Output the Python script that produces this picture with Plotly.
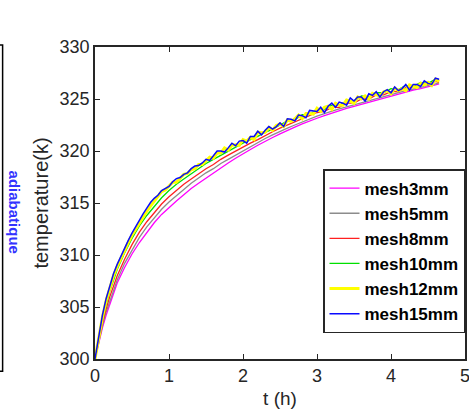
import plotly.graph_objects as go

# ---------------- data ----------------
t_coarse = [0.0, 0.05, 0.1, 0.15, 0.2, 0.3, 0.4, 0.5, 0.6, 0.7, 0.8, 0.9, 1.0,
            1.1, 1.2, 1.3, 1.4, 1.5, 1.6, 1.7, 1.8, 1.9, 2.0, 2.1, 2.2, 2.3,
            2.4, 2.5, 2.6, 2.7, 2.8, 2.9, 3.0, 3.1, 3.2, 3.3, 3.4, 3.5, 3.6,
            3.7, 3.8, 3.9, 4.0, 4.1, 4.2, 4.3, 4.4, 4.5, 4.6, 4.65]

mesh3mm = [300.0, 301.6, 303.0, 304.2, 305.3, 307.3, 308.8, 310.1, 311.2, 312.2,
           313.1, 313.9, 314.6, 315.2, 315.8, 316.4, 316.9, 317.4, 317.9, 318.4,
           318.85, 319.3, 319.75, 320.15, 320.55, 320.95, 321.3, 321.65, 322.0,
           322.3, 322.6, 322.9, 323.15, 323.4, 323.65, 323.9, 324.1, 324.3, 324.5,
           324.7, 324.9, 325.1, 325.3, 325.5, 325.7, 325.85, 326.0, 326.15,
           326.35, 326.45]

mesh5mm = [300.0, 301.7, 303.2, 304.5, 305.6, 307.6, 309.2, 310.5, 311.7, 312.7,
           313.6, 314.4, 315.1, 315.7, 316.3, 316.9, 317.4, 317.9, 318.3, 318.8,
           319.2, 319.6, 320.05, 320.45, 320.85, 321.2, 321.55, 321.9, 322.2,
           322.5, 322.8, 323.1, 323.35, 323.6, 323.85, 324.05, 324.25, 324.45,
           324.65, 324.85, 325.05, 325.25, 325.4, 325.6, 325.8, 325.95, 326.1,
           326.25, 326.45, 326.55]

mesh8mm = [300.0, 301.8, 303.4, 304.8, 306.0, 308.0, 309.6, 311.0, 312.2, 313.2,
           314.1, 314.9, 315.6, 316.2, 316.8, 317.3, 317.8, 318.3, 318.7, 319.2,
           319.6, 320.0, 320.4, 320.75, 321.1, 321.5, 321.85, 322.2, 322.5,
           322.8, 323.1, 323.4, 323.7, 323.8, 324.2, 324.2, 324.6, 324.6, 325.0,
           325.0, 325.4, 325.4, 325.7, 325.7, 326.1, 326.1, 326.4, 326.4, 326.7,
           326.6]

mesh10mm = [300.0, 301.9, 303.7, 305.2, 306.5, 308.6, 310.2, 311.6, 312.8, 313.8,
            314.7, 315.5, 316.2, 316.8, 317.3, 317.8, 318.3, 318.8, 319.2, 319.6,
            320.0, 320.4, 320.75, 321.1, 321.4, 321.8, 322.1, 322.5, 322.9,
            323.0, 323.5, 323.5, 324.0, 324.0, 324.4, 324.4, 324.8, 324.8, 325.3,
            325.2, 325.6, 325.6, 326.0, 325.9, 326.3, 326.2, 326.6, 326.5, 326.9,
            326.8]

t_fine = [0.0, 0.05, 0.1, 0.15, 0.2, 0.25, 0.3, 0.35, 0.4, 0.45, 0.5, 0.55, 0.6,
          0.65, 0.7, 0.75, 0.8, 0.85, 0.9, 0.95, 1.0, 1.05, 1.1, 1.15, 1.2, 1.25,
          1.3, 1.35, 1.4, 1.45, 1.5, 1.55, 1.6, 1.65, 1.7, 1.75, 1.8, 1.85, 1.9,
          1.95, 2.0, 2.05, 2.1, 2.15, 2.2, 2.25, 2.3, 2.35, 2.4, 2.45, 2.5, 2.55,
          2.6, 2.65, 2.7, 2.75, 2.8, 2.85, 2.9, 2.95, 3.0, 3.05, 3.1, 3.15, 3.2,
          3.25, 3.3, 3.35, 3.4, 3.45, 3.5, 3.55, 3.6, 3.65, 3.7, 3.75, 3.8, 3.85,
          3.9, 3.95, 4.0, 4.05, 4.1, 4.15, 4.2, 4.25, 4.3, 4.35, 4.4, 4.45, 4.5,
          4.55, 4.6, 4.65]

mesh12mm = [300.0, 302.1, 304.0, 305.6, 306.9, 308.0, 308.9, 309.7, 310.5, 311.2,
            311.9, 312.5, 313.1, 313.7, 314.2, 314.7, 315.2, 315.7, 316.1, 316.25,
            316.6, 317.0, 317.0, 317.4, 317.75, 317.85, 318.2, 318.3, 318.7, 318.7,
            319.1, 319.4, 319.3, 319.8, 319.8, 320.3, 320.1, 320.55, 320.6, 320.55,
            321.1, 320.95, 321.3, 321.1, 321.8, 321.75, 321.8, 322.25, 322.0, 322.45,
            322.6, 322.35, 323.0, 322.85, 323.1, 323.45, 323.1, 323.6, 323.6, 323.55,
            324.1, 323.8, 324.2, 324.3, 324.0, 324.6, 324.4, 324.4, 324.9, 324.8,
            324.6, 325.2, 325.0, 325.3, 325.0, 325.55, 325.4, 325.3, 325.7, 325.8,
            325.5, 326.05, 325.8, 326.0, 325.8, 326.35, 326.2, 326.1, 326.5, 326.35,
            326.6, 326.3, 326.9, 326.7]

mesh15mm = [300.0, 302.2, 304.2, 305.8, 307.1, 308.2, 309.1, 309.9, 310.7, 311.4,
            312.1, 312.75, 313.3, 313.95, 314.5, 315.05, 315.45, 315.75, 316.2, 316.4,
            316.6, 317.05, 317.35, 317.45, 317.75, 317.9, 318.3, 318.55, 318.6, 318.85,
            319.2, 319.1, 319.6, 320.0, 320.0, 319.9, 320.3, 320.75, 320.5, 320.95,
            321.0, 320.75, 321.4, 321.4, 321.9, 321.55, 322.0, 322.35, 322.1, 322.35,
            322.7, 322.35, 323.1, 323.05, 322.9, 323.45, 323.4, 323.2, 323.9, 323.85,
            323.8, 324.2, 323.7, 324.3, 324.6, 324.2, 324.7, 324.6, 324.4, 325.1,
            324.8, 325.2, 325.2, 324.8, 325.5, 325.35, 325.7, 325.2, 325.7, 325.9,
            325.6, 326.15, 325.8, 326.0, 326.4, 325.85, 326.4, 326.4, 326.2, 326.75,
            326.5, 326.4, 327.0, 326.9]

series_names = ["mesh3mm", "mesh5mm", "mesh8mm", "mesh10mm", "mesh12mm", "mesh15mm"]
x_tick_vals = [0, 1, 2, 3, 4, 5]
y_tick_vals = [300, 305, 310, 315, 320, 325, 330]

# ---------------- figure ----------------
series = [
    (t_coarse, mesh3mm, "#ff00ff", 1.3),
    (t_coarse, mesh5mm, "#8c8c8c", 1.3),
    (t_coarse, mesh8mm, "#ff2020", 1.3),
    (t_coarse, mesh10mm, "#00e000", 1.3),
    (t_fine, mesh12mm, "#ffff00", 3.0),
    (t_fine, mesh15mm, "#0a0aff", 1.5),
]

fig = go.Figure()
for name, (xs, ys, col, w) in zip(series_names, series):
    fig.add_trace(go.Scatter(x=xs, y=ys, mode="lines", name=name,
                             line=dict(color=col, width=w)))

axis_col = "#262626"
font_fam = "Liberation Sans, Arial, sans-serif"

fig.update_layout(
    width=469, height=419,
    margin=dict(l=95, r=4, t=47, b=60, autoexpand=False),
    paper_bgcolor="white", plot_bgcolor="white",
    font=dict(family=font_fam, color=axis_col, size=18),
    showlegend=True,
    legend=dict(x=1, xanchor="right", y=0.6086, yanchor="top",
                bgcolor="white", bordercolor="#262626", borderwidth=1.5,
                font=dict(family=font_fam, size=17, color="black", weight="bold")),
    xaxis=dict(range=[0, 5], tickvals=x_tick_vals, ticks="inside", ticklen=5,
               tickcolor=axis_col, tickwidth=1.3, showline=True, linecolor=axis_col,
               linewidth=1.5, mirror="ticks", showgrid=False, zeroline=False,
               automargin=False, ticklabeloverflow="allow",
               tickfont=dict(size=18, color=axis_col),
               title=dict(text="t (h)", font=dict(size=19, color=axis_col), standoff=6)),
    yaxis=dict(range=[300, 330], tickvals=y_tick_vals, ticks="inside", ticklen=5,
               tickcolor=axis_col, tickwidth=1.3, showline=True, linecolor=axis_col,
               linewidth=1.5, mirror="ticks", showgrid=False, zeroline=False,
               automargin=False, ticklabeloverflow="allow",
               tickfont=dict(size=18, color=axis_col),
               title=dict(text="temperature(k)", font=dict(size=20, color=axis_col),
                          standoff=6)),
)

# partial box and rotated label at the far left of the picture
fig.add_shape(type="rect", xref="paper", yref="paper",
              x0=-0.30, x1=-0.2497, y0=-0.0395, y1=1.0064,
              line=dict(color="black", width=1.5), fillcolor="rgba(0,0,0,0)")
fig.add_annotation(xref="paper", yref="paper", x=-0.2375, y=0.4706,
                   xshift=-3,
                   text="<b>adiabatique</b>", textangle=90, showarrow=False,
                   font=dict(family=font_fam, size=15, color="#3333ff"))

fig.write_html("out.html", config={"displayModeBar": False},
               post_script="document.body.style.margin='0';"
                           "document.body.style.overflow='hidden';")
